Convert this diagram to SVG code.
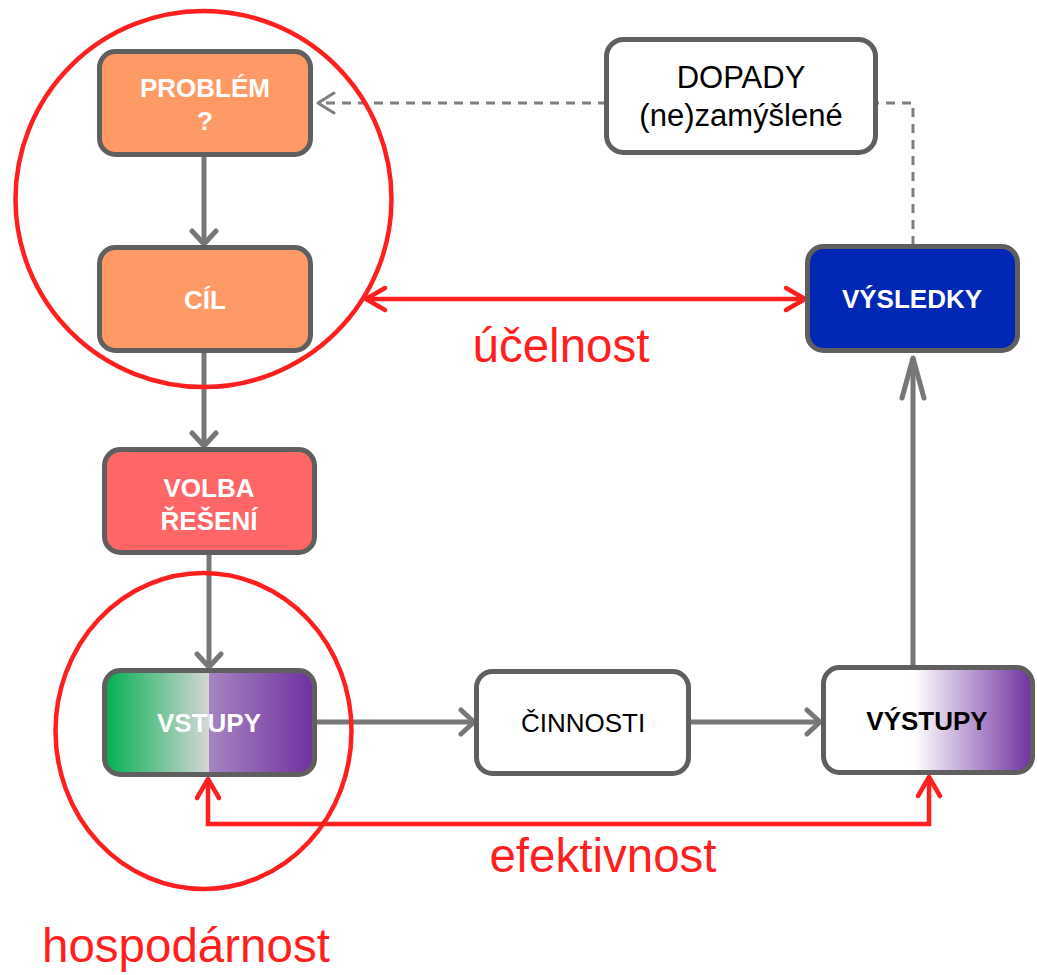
<svg xmlns="http://www.w3.org/2000/svg" width="1037" height="975" viewBox="0 0 1037 975">
<style>
.box{stroke:#5f5f5f;stroke-width:5}
.wb{font-family:"Liberation Sans",Arial,sans-serif;font-weight:bold;font-size:26px;fill:#fff;text-anchor:middle}
.bb{font-family:"Liberation Sans",Arial,sans-serif;font-weight:bold;font-size:26px;fill:#000;text-anchor:middle}
.rn{font-family:"Liberation Sans",Arial,sans-serif;font-size:26px;fill:#000;text-anchor:middle}
.red{font-family:"Liberation Sans",Arial,sans-serif;font-size:47.5px;fill:#ff1f1f}
.g{stroke:#777;stroke-width:5;fill:none}
.r{stroke:#ff1f1f;stroke-width:4.5;fill:none}
.d{stroke:#7f7f7f;stroke-width:3;fill:none;stroke-dasharray:9 7}
</style>
<defs>
<linearGradient id="gIn" x1="0" y1="0" x2="1" y2="0">
<stop offset="0" stop-color="#00b050"/>
<stop offset="0.5" stop-color="#d6d6d6"/>
<stop offset="0.5" stop-color="#a584c0"/>
<stop offset="1" stop-color="#7030a0"/>
</linearGradient>
<linearGradient id="gOut" x1="0" y1="0" x2="1" y2="0">
<stop offset="0" stop-color="#fff"/>
<stop offset="0.43" stop-color="#fff"/>
<stop offset="1" stop-color="#7030a0"/>
</linearGradient>
<marker id="mg" markerUnits="userSpaceOnUse" viewBox="0 0 30 30" markerWidth="30" markerHeight="30" refX="26" refY="15" orient="auto">
<path d="M13,3 L26,15 L13,27" fill="none" stroke="#777" stroke-width="5" stroke-linecap="round" stroke-linejoin="round"/>
</marker>
<marker id="mgL" markerUnits="userSpaceOnUse" viewBox="0 0 50 34" markerWidth="50" markerHeight="34" refX="46" refY="17" orient="auto">
<path d="M6,6 L46,17 L6,28" fill="none" stroke="#777" stroke-width="5" stroke-linecap="round" stroke-linejoin="round"/>
</marker>
<marker id="mr" markerUnits="userSpaceOnUse" viewBox="0 0 30 30" markerWidth="30" markerHeight="30" refX="26" refY="15" orient="auto-start-reverse">
<path d="M7,4 L26,15 L7,26" fill="none" stroke="#ff1f1f" stroke-width="4.5" stroke-linecap="round" stroke-linejoin="round"/>
</marker>
<marker id="md" markerUnits="userSpaceOnUse" viewBox="0 0 24 24" markerWidth="24" markerHeight="24" refX="21" refY="12" orient="auto">
<path d="M5,2 L21,12 L5,22" fill="none" stroke="#7f7f7f" stroke-width="3" stroke-linecap="round" stroke-linejoin="round"/>
</marker>
</defs>
<rect width="1037" height="975" fill="#fff"/>

<g id="connectors">
<path class="d" d="M913,245 L913,103 L318,103" marker-end="url(#md)"/>
<path class="g" d="M204,157 L204,244" marker-end="url(#mg)"/>
<path class="g" d="M204,353 L204,446" marker-end="url(#mg)"/>
<path class="g" d="M209,555 L209,667" marker-end="url(#mg)"/>
<path class="g" d="M317,722 L474,722" marker-end="url(#mg)"/>
<path class="g" d="M691,722 L820,722" marker-end="url(#mg)"/>
<path class="g" d="M913,665 L913,358" marker-end="url(#mgL)"/>
<path class="r" d="M366,299 L805,299" marker-start="url(#mr)" marker-end="url(#mr)"/>
<path class="r" d="M208,779 L208,824 L929,824 L929,777" marker-start="url(#mr)" marker-end="url(#mr)"/>
</g>

<g id="dopady">
<rect class="box" x="606.5" y="39.5" width="269" height="113" rx="17" fill="#fff"/>
<text class="rn" x="741" y="88" style="font-size:31px">DOPADY</text>
<text class="rn" x="741" y="126" style="font-size:31px">(ne)zamýšlené</text>
</g>

<g id="problem">
<rect class="box" x="99.5" y="51.5" width="211" height="103" rx="16" fill="#ff9966"/>
<text class="wb" x="205" y="97">PROBLÉM</text>
<text class="wb" x="205" y="130">?</text>
</g>

<g id="cil">
<rect class="box" x="99.5" y="247.5" width="211" height="103" rx="16" fill="#ff9966"/>
<text class="wb" x="205" y="309">CÍL</text>
</g>

<g id="volba">
<rect class="box" x="104.5" y="449.5" width="210" height="103" rx="16" fill="#ff6666"/>
<text class="wb" x="209" y="497">VOLBA</text>
<text class="wb" x="209" y="530">ŘEŠENÍ</text>
</g>

<g id="vstupy">
<rect class="box" x="104.5" y="670.5" width="210" height="104" rx="16" fill="url(#gIn)"/>
<text class="wb" x="209" y="732">VSTUPY</text>
</g>

<g id="cinnosti">
<rect class="box" x="476.5" y="671.5" width="212" height="102" rx="16" fill="#fff"/>
<text class="rn" x="583" y="732">ČINNOSTI</text>
</g>

<g id="vystupy">
<rect class="box" x="823.5" y="667.5" width="209" height="105" rx="16" fill="url(#gOut)"/>
<text class="bb" x="927" y="730">VÝSTUPY</text>
</g>

<g id="vysledky">
<rect class="box" x="807.5" y="246.5" width="210" height="104" rx="16" fill="#0028b4"/>
<text class="wb" x="912" y="308">VÝSLEDKY</text>
</g>

<g id="annotations">
<circle cx="203.5" cy="199" r="188" fill="none" stroke="#ff1f1f" stroke-width="4.5"/>
<ellipse cx="203.5" cy="731" rx="148" ry="158" fill="none" stroke="#ff1f1f" stroke-width="4.5"/>
<text class="red" x="561" y="362" text-anchor="middle">účelnost</text>
<text class="red" x="603" y="872" text-anchor="middle">efektivnost</text>
<text class="red" x="42" y="962">hospodárnost</text>
</g>
</svg>
